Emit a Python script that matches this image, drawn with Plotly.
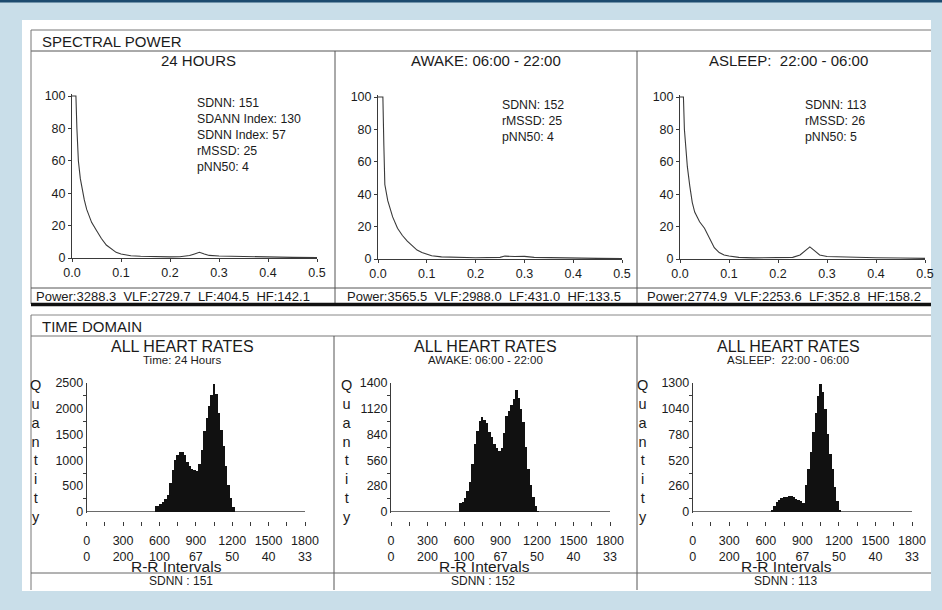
import plotly.graph_objects as go

W, H = 942, 610
def PX(x): return x / W
def PY(y): return 1 - y / H

FONT = "Liberation Sans, Arial, Helvetica, sans-serif"
INK = "#1b1b1b"
LINE = "#3a3a3a"
NB = "\u00a0"

# ---------------- DATA ----------------
section_titles = ["SPECTRAL POWER", "TIME DOMAIN"]
spec_titles = ["24 HOURS", "AWAKE: 06:00 - 22:00", "ASLEEP:\u00a0 22:00 - 06:00"]

freq_24h = [0.000, 0.008, 0.010, 0.013, 0.017, 0.020, 0.025, 0.030, 0.040, 0.050, 0.060,
            0.070, 0.080, 0.090, 0.100, 0.110, 0.120, 0.140, 0.160, 0.180, 0.200, 0.220,
            0.240, 0.250, 0.260, 0.270, 0.280, 0.300, 0.350, 0.400, 0.450, 0.500]
psd_24h = [100, 100, 80, 60, 49, 44, 36, 30, 22, 17, 12,
           8, 5.5, 3.5, 2.5, 1.8, 1.4, 1.1, 0.9, 0.8, 0.7, 0.8,
           1.5, 2.5, 3.5, 2.5, 1.6, 1.2, 0.8, 0.6, 0.4, 0.3]

freq_awake = [0.000, 0.010, 0.012, 0.014, 0.020, 0.030, 0.040, 0.050, 0.060, 0.070, 0.080,
              0.090, 0.100, 0.110, 0.130, 0.150, 0.200, 0.250, 0.260, 0.280, 0.300, 0.320,
              0.350, 0.400, 0.450, 0.500]
psd_awake = [100, 100, 70, 46, 36, 26, 19, 14.5, 11, 8, 5.5,
             4, 3, 2, 1.3, 1.1, 0.8, 1.0, 1.8, 1.5, 1.6, 1.0,
             0.8, 0.6, 0.4, 0.3]

freq_asleep = [0.000, 0.007, 0.009, 0.012, 0.015, 0.020, 0.025, 0.030, 0.040, 0.050, 0.055,
               0.060, 0.070, 0.080, 0.090, 0.100, 0.120, 0.150, 0.200, 0.230, 0.245, 0.255,
               0.265, 0.275, 0.285, 0.300, 0.350, 0.400, 0.450, 0.500]
psd_asleep = [100, 100, 80, 65, 57, 45, 35, 29, 23, 19, 16,
              12, 7, 4, 2.5, 1.8, 1.0, 0.7, 0.6, 1.0, 2.5, 5,
              7.5, 5, 2.5, 1.5, 1.0, 0.8, 0.6, 0.4]

stats_24h = ["SDNN: 151", "SDANN Index: 130", "SDNN Index: 57", "rMSSD: 25", "pNN50: 4"]
stats_awake = ["SDNN: 152", "rMSSD: 25", "pNN50: 4"]
stats_asleep = ["SDNN: 113", "rMSSD: 26", "pNN50: 5"]

power_24h = ["Power:3288.3", "VLF:2729.7", "LF:404.5", "HF:142.1"]
power_awake = ["Power:3565.5", "VLF:2988.0", "LF:431.0", "HF:133.5"]
power_asleep = ["Power:2774.9", "VLF:2253.6", "LF:352.8", "HF:158.2"]

spec_xticks = [0.0, 0.1, 0.2, 0.3, 0.4, 0.5]
spec_yticks = [0, 20, 40, 60, 80, 100]

hist_title = "ALL HEART RATES"
hist_subtitles = ["Time: 24 Hours", "AWAKE: 06:00 - 22:00", "ASLEEP:\u00a0 22:00 - 06:00"]

rr_24h = [570, 590, 610, 630, 650, 670, 690, 710, 730, 750, 770, 790, 810, 830, 850, 870,
          890, 910, 930, 950, 970, 990, 1010, 1030, 1050, 1070, 1090, 1110, 1130, 1150,
          1170, 1190, 1210]
cnt_24h = [100, 115, 140, 190, 240, 320, 560, 800, 1000, 1110, 1160, 1150, 1100, 970, 890, 830,
           810, 790, 920, 1200, 1560, 1810, 2050, 2270, 2480, 2290, 1920, 1580, 1270, 880,
           520, 270, 80]

rr_awake = [570, 590, 610, 630, 650, 670, 690, 710, 730, 750, 770, 790, 810, 830, 850, 870,
            890, 910, 930, 950, 970, 990, 1010, 1030, 1050, 1070, 1090, 1110, 1130, 1150,
            1170, 1190, 1210]
cnt_awake = [95, 105, 150, 220, 320, 520, 740, 880, 985, 1030, 1000, 960, 870, 810, 740, 690,
             660, 690, 860, 1040, 1100, 1160, 1230, 1320, 1240, 1120, 980, 700, 460, 290,
             160, 60, 10]

rr_asleep = [650, 670, 690, 710, 730, 750, 770, 790, 810, 830, 850, 870, 890, 910, 930, 950,
             970, 990, 1010, 1030, 1050, 1070, 1090, 1110, 1130, 1150, 1170, 1190, 1210]
cnt_asleep = [20, 60, 95, 120, 137, 145, 150, 155, 154, 145, 130, 118, 105, 90, 270, 430,
              600, 800, 1000, 1170, 1290, 1210, 1040, 780, 580, 430, 250, 110, 20]

hist_ymax = [2500, 1400, 1300]
hist_yticks = [[0, 500, 1000, 1500, 2000, 2500],
               [0, 280, 560, 840, 1120, 1400],
               [0, 260, 520, 780, 1040, 1300]]

rr_ticks = [0, 300, 600, 900, 1200, 1500, 1800]
hr_labels = ["0", "200", "100", "67", "50", "40", "33"]
x_title = "R-R Intervals"
y_title = "Quantity"
sdnn_labels = ["SDNN : 151", "SDNN : 152", "SDNN : 113"]

# ---------------- LAYOUT GEOMETRY (px) ----------------
spec_x = [(72, 317), (378, 622), (680, 925)]
spec_y = [(94.4, 258), (95.4, 259), (95.4, 259)]
hist_x = [(86.7, 305), (391, 610), (692.7, 912)]
hist_y = (383, 513.2)
hist_tick_row = 521

fig = go.Figure()

spec_data = [(freq_24h, psd_24h), (freq_awake, psd_awake), (freq_asleep, psd_asleep)]
for i, (f, p) in enumerate(spec_data):
    n = i + 1
    fig.add_trace(go.Scatter(x=f, y=p, mode="lines", xaxis=f"x{n}", yaxis=f"y{n}",
                             line=dict(color="#3a3a3a", width=1.1), showlegend=False,
                             hoverinfo="skip"))

hist_data = [(rr_24h, cnt_24h), (rr_awake, cnt_awake), (rr_asleep, cnt_asleep)]
for i, (r, c) in enumerate(hist_data):
    n = i + 4
    fig.add_trace(go.Bar(x=r, y=c, width=20, xaxis=f"x{n}", yaxis=f"y{n}",
                         marker=dict(color="#111111", line=dict(width=0)),
                         showlegend=False, hoverinfo="skip"))

layout = dict(
    template="none",
    width=W, height=H, margin=dict(l=0, r=0, t=0, b=0, pad=0, autoexpand=False),
    paper_bgcolor="#c9dee9", plot_bgcolor="rgba(0,0,0,0)",
    font=dict(family=FONT, color=INK, size=12),
    bargap=0, showlegend=False,
)

tickfont = dict(family=FONT, size=12.5, color=INK)
for i in range(3):
    n = i + 1
    x0, x1 = spec_x[i]
    yt, yb = spec_y[i]
    layout[f"xaxis{n}"] = dict(domain=[PX(x0), PX(x1)], anchor=f"y{n}", range=[0, 0.5],
                               tickvals=spec_xticks, tickformat=".1f", ticks="outside",
                               ticklen=3, tickcolor=LINE, showline=True, linecolor=LINE,
                               linewidth=1, showgrid=False, zeroline=False, tickfont=tickfont,
                               automargin=False, fixedrange=True)
    layout[f"yaxis{n}"] = dict(domain=[PY(yb), PY(yt)], anchor=f"x{n}", range=[0, 101],
                               tickvals=spec_yticks, ticks="outside", ticklen=3,
                               tickcolor=LINE, showline=True, linecolor=LINE, linewidth=1,
                               showgrid=False, zeroline=False, tickfont=tickfont,
                               automargin=False, fixedrange=True)

for i in range(3):
    n = i + 4
    x0, x1 = hist_x[i]
    ymax = hist_ymax[i]
    layout[f"xaxis{n}"] = dict(domain=[PX(x0), PX(x1)], anchor="free",
                               position=PY(hist_tick_row), range=[0, 1800],
                               tickvals=rr_ticks,
                               ticktext=[f"{a}<br>{b}" for a, b in zip(rr_ticks, hr_labels)],
                               ticks="outside", ticklen=4, tickcolor=LINE,
                               ticklabelstandoff=4,
                               minor=dict(tickvals=[150, 450, 750, 1050, 1350, 1650],
                                          ticks="outside", ticklen=4, tickcolor=LINE),
                               showline=False, showgrid=False, zeroline=False,
                               tickfont=dict(family=FONT, size=12.5, color=INK),
                               automargin=False, fixedrange=True)
    layout[f"yaxis{n}"] = dict(domain=[PY(hist_y[1]), PY(hist_y[0])], anchor=f"x{n}",
                               range=[-ymax * 1.6 / 128.7, ymax],
                               tickvals=hist_yticks[i], ticks="",
                               minor=dict(tickvals=[(hist_yticks[i][k] + hist_yticks[i][k + 1]) / 2
                                                    for k in range(5)],
                                          ticks="outside", ticklen=3, tickcolor=LINE),
                               showline=True, linecolor=LINE, linewidth=1,
                               showgrid=False, zeroline=True, zerolinecolor="#6a6a6a",
                               zerolinewidth=1, tickfont=dict(family=FONT, size=12.5, color=INK),
                               automargin=False, fixedrange=True)

fig.update_layout(**layout)

# ---------------- SHAPES (frame / printout rules) ----------------
shapes = []
def rect(x0, y0, x1, y1, color):
    shapes.append(dict(type="rect", xref="paper", yref="paper", x0=PX(x0), x1=PX(x1),
                       y0=PY(y1), y1=PY(y0), fillcolor=color, line=dict(width=0),
                       layer="below"))
def hline(y, x0, x1, w=1, c="#555555"):
    shapes.append(dict(type="line", xref="paper", yref="paper", x0=PX(x0), x1=PX(x1),
                       y0=PY(y), y1=PY(y), line=dict(color=c, width=w), layer="above"))
def vline(x, y0, y1, w=1, c="#555555"):
    shapes.append(dict(type="line", xref="paper", yref="paper", x0=PX(x), x1=PX(x),
                       y0=PY(y0), y1=PY(y1), line=dict(color=c, width=w), layer="above"))

rect(0, 0, W, 2.5, "#1d4b6f")
rect(22, 20, 931, 591, "#ffffff")
# top section
hline(30, 31, 931, 1, "#777777")
hline(51, 31, 931, 1, "#555555")
vline(31, 30, 304, 1, "#777777")
vline(335, 51, 304, 1, "#555555")
vline(637, 51, 304, 1, "#555555")
hline(288, 31, 931, 1, "#555555")
hline(304.5, 31, 931, 3.5, "#111111")
# bottom section
hline(315, 31, 931, 1, "#888888")
hline(336, 31, 931, 1, "#777777")
vline(31, 315, 590, 1, "#777777")
vline(334, 336, 590, 1, "#555555")
vline(637, 336, 590, 1, "#555555")
hline(573, 31, 931, 1, "#666666")
fig.update_layout(shapes=shapes)

# ---------------- ANNOTATIONS ----------------
ann = []
def text(x, y, s, size=12, xanchor="center", yanchor="middle", align="center"):
    ann.append(dict(x=PX(x), y=PY(y), xref="paper", yref="paper", text=s, showarrow=False,
                    xanchor=xanchor, yanchor=yanchor, align=align,
                    font=dict(family=FONT, size=size, color=INK)))

text(40, 41, section_titles[0], 15, xanchor="left")
text(40, 326, section_titles[1], 15, xanchor="left")

spec_centers = [198, 486, 788]
for i in range(3):
    text(spec_centers[i], 61, spec_titles[i], 15)

stats = [stats_24h, stats_awake, stats_asleep]
stats_pos = [(195, 94), (500, 96), (803, 96)]
for i in range(3):
    text(stats_pos[i][0], stats_pos[i][1], "<br>".join(stats[i]), 12.3,
         xanchor="left", yanchor="top", align="left")

powers = [power_24h, power_awake, power_asleep]
power_centers = [173, 484, 784]
for i in range(3):
    text(power_centers[i], 296, (NB + " ").join(powers[i]), 13)

hist_centers = [182, 485, 788]
for i in range(3):
    text(hist_centers[i], 346, hist_title, 16)
    text(hist_centers[i], 359.5, hist_subtitles[i], 11.5)

q_x = [35, 346, 642]
for i in range(3):
    text(q_x[i], 451, "<br>".join(list(y_title)), 14.5)

xt_centers = [176, 484, 786]
for i in range(3):
    text(xt_centers[i], 566.5, x_title, 15.5)

sdnn_centers = [181, 483, 785]
for i in range(3):
    text(sdnn_centers[i], 580.5, sdnn_labels[i], 12)

fig.update_layout(annotations=ann)

fig.write_html("out.html", config={"displayModeBar": False, "staticPlot": True},
               post_script="document.body.style.margin='0';")
